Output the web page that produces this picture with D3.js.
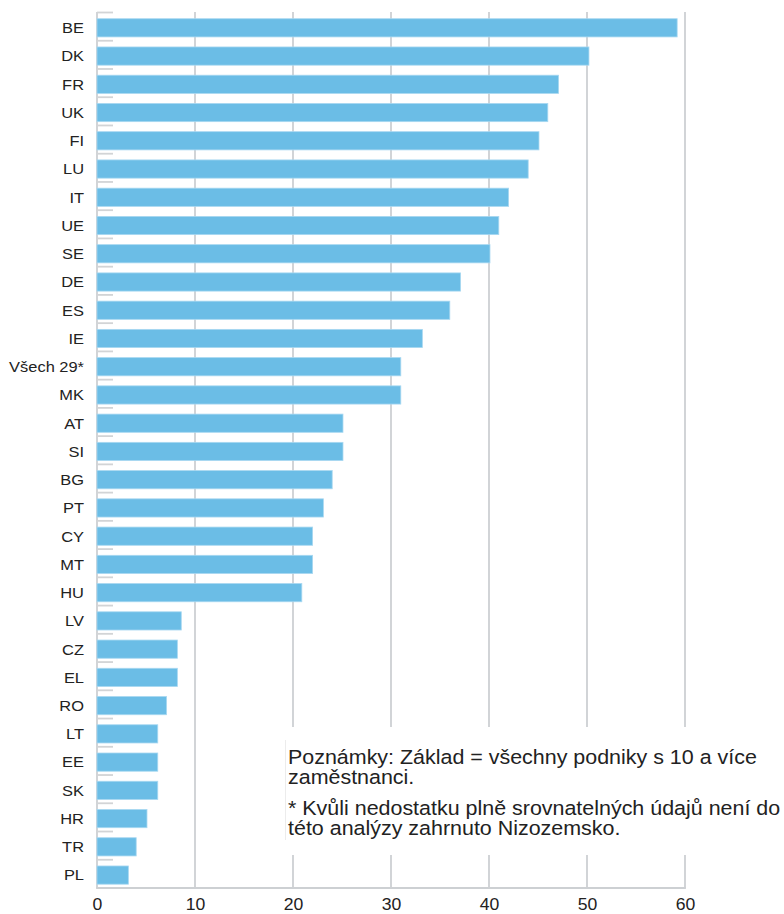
<!DOCTYPE html>
<html>
<head>
<meta charset="utf-8">
<script src="https://cdn.jsdelivr.net/npm/d3@7"></script>
<style>
  html, body { margin: 0; padding: 0; background: #fff; }
  svg { display: block; font-family: "Liberation Sans", Arial, sans-serif; }
</style>
</head>
<body>
<svg id="chart" width="784" height="914"></svg>
<script>
// Countries, in chart order (top to bottom)
const categories = ["BE", "DK", "FR", "UK", "FI", "LU", "IT", "UE", "SE", "DE", "ES", "IE",
  "Všech 29*", "MK", "AT", "SI", "BG", "PT", "CY", "MT", "HU", "LV", "CZ", "EL", "RO",
  "LT", "EE", "SK", "HR", "TR", "PL"];

// Share of establishments (%)
const values = [59.2, 50.2, 47.1, 46.0, 45.1, 44.0, 42.0, 41.0, 40.1, 37.1, 36.0, 33.2,
  31.0, 31.0, 25.1, 25.1, 24.0, 23.1, 22.0, 22.0, 20.9, 8.6, 8.2, 8.2, 7.1,
  6.2, 6.2, 6.2, 5.1, 4.0, 3.2];

const xTicks = [0, 10, 20, 30, 40, 50, 60];

const noteLines = [
  "Poznámky: Základ = všechny podniky s 10 a více",
  "zaměstnanci.",
  "* Kvůli nedostatku plně srovnatelných údajů není do",
  "této analýzy zahrnuto Nizozemsko."
];

const data = categories.map((c, i) => ({ c, v: values[i] }));

const svg = d3.select("#chart");
const plotLeft = 97, plotRight = 685, plotTop = 12.5, plotBottom = 888;

const x = d3.scaleLinear().domain([0, 60]).range([plotLeft, plotRight]);
const y = d3.scaleBand().domain(categories).range([plotTop, plotBottom]).padding(0);
const step = y.step();

const gridColor = "#cdd0d3";

// vertical gridlines
svg.append("g").selectAll("line").data(xTicks).join("line")
  .attr("x1", d => x(d)).attr("x2", d => x(d))
  .attr("y1", plotTop - 0.5).attr("y2", plotBottom)
  .attr("stroke", gridColor).attr("stroke-width", 1.8);

// bottom axis line
svg.append("line")
  .attr("x1", x(0) - 0.9).attr("x2", x(60) + 0.9)
  .attr("y1", plotBottom).attr("y2", plotBottom)
  .attr("stroke", gridColor).attr("stroke-width", 1.8);

// short category separators on the value axis
svg.append("g").selectAll("line").data(categories).join("line")
  .attr("x1", x(0)).attr("x2", x(0) + 16)
  .attr("y1", d => y(d)).attr("y2", d => y(d))
  .attr("stroke", "#d2d4d6").attr("stroke-width", 1.8);

// bars
svg.append("g").selectAll("rect").data(data).join("rect")
  .attr("x", x(0))
  .attr("y", d => y(d.c) + step * 0.22)
  .attr("width", d => x(d.v) - x(0))
  .attr("height", step * 0.645)
  .attr("fill", "#6bbde6")
  .attr("stroke", "#a8d8f1")
  .attr("stroke-width", 0.8);

// category labels (typeface is set slightly wide)
svg.append("g").selectAll("text").data(categories).join("text")
  .attr("transform", d => `translate(84,${y(d) + step * 0.54}) scale(1.06,1)`)
  .attr("dy", "0.35em")
  .attr("text-anchor", "end")
  .attr("font-size", 15.5)
  .attr("fill", "#222")
  .text(d => d);

// value axis tick labels
const xAxis = d3.axisBottom(x).tickValues(xTicks).tickSize(0).tickPadding(0);
const gx = svg.append("g").attr("transform", `translate(0,${plotBottom})`).call(xAxis);
gx.select(".domain").remove();
gx.selectAll("text")
  .attr("y", 0).attr("dy", 0)
  .attr("transform", "translate(0,21.5) scale(1.1,1)")
  .attr("font-size", 16)
  .attr("font-family", "'Liberation Sans', Arial, sans-serif")
  .attr("fill", "#222");

// note box
const note = svg.append("g");
note.append("rect")
  .attr("x", 285).attr("y", 727).attr("width", 499).attr("height", 128)
  .attr("fill", "#fff");
note.append("line")
  .attr("x1", 285.5).attr("x2", 285.5).attr("y1", 740).attr("y2", 840)
  .attr("stroke", "#ececec").attr("stroke-width", 1);
const noteY = [764, 784, 815, 835];
note.selectAll("text").data(noteLines).join("text")
  .attr("transform", (d, i) => `translate(288,${noteY[i]}) scale(1.1,1)`)
  .attr("font-size", 19.5)
  .attr("fill", "#222")
  .text(d => d);
</script>
</body>
</html>
